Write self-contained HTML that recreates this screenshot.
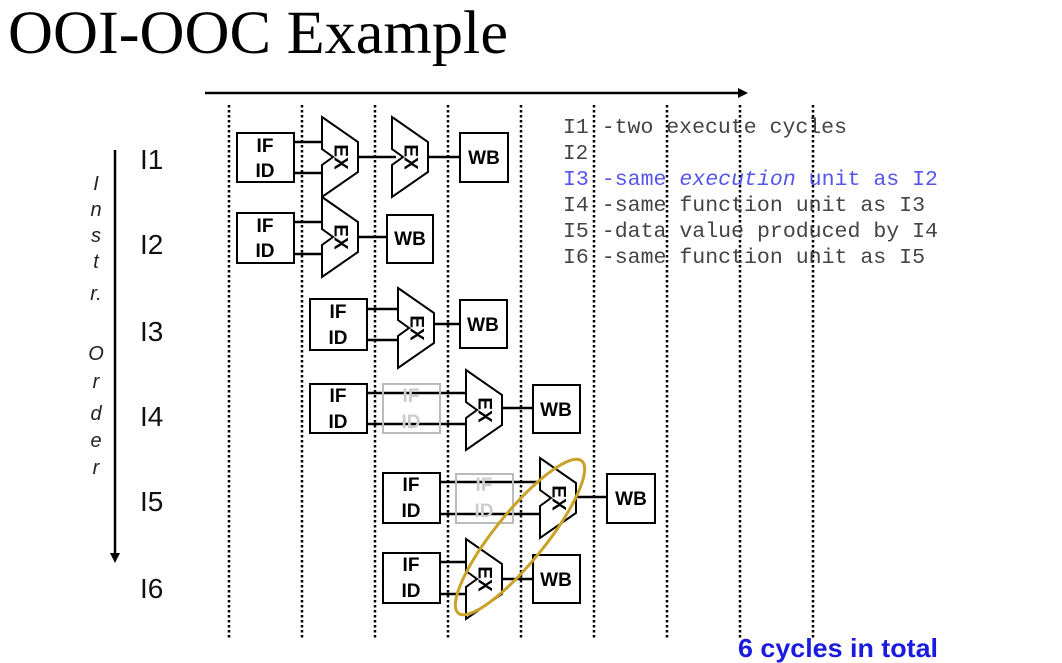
<!DOCTYPE html>
<html><head><meta charset="utf-8"><style>
html,body{margin:0;padding:0;background:#fff;}
svg{display:block;}
</style></head><body>
<svg width="1062" height="663" viewBox="0 0 1062 663" xmlns="http://www.w3.org/2000/svg">
<defs>
<g id="alu"><polygon points="0,0 36,25 36,55 0,80 0,48 11,40 0,32" fill="#fff" stroke="#000" stroke-width="2"/>
<text transform="translate(18,40) rotate(90)" font-family="Liberation Sans, sans-serif" font-weight="bold" font-size="19" text-anchor="middle" dominant-baseline="central">EX</text></g>
</defs>
<text x="8" y="53" font-family="Liberation Serif, serif" font-size="61" textLength="500" lengthAdjust="spacingAndGlyphs">OOI-OOC Example</text>
<line x1="205" y1="93" x2="742" y2="93" stroke="#000" stroke-width="2.5"/>
<polygon points="748,93 738,88 738,98" fill="#000"/>
<g stroke="#000" stroke-width="2.5" stroke-dasharray="2.5,2.5">
<line x1="229" y1="105" x2="229" y2="640"/><line x1="302" y1="105" x2="302" y2="640"/>
<line x1="375" y1="105" x2="375" y2="640"/><line x1="448" y1="105" x2="448" y2="640"/>
<line x1="521" y1="105" x2="521" y2="640"/><line x1="594" y1="105" x2="594" y2="640"/>
<line x1="667" y1="105" x2="667" y2="640"/><line x1="740" y1="105" x2="740" y2="640"/>
<line x1="813" y1="105" x2="813" y2="640"/>
</g>
<line x1="115" y1="150" x2="115" y2="555" stroke="#000" stroke-width="2.5"/>
<polygon points="115,563 110,553 120,553" fill="#000"/>
<g font-family="Liberation Sans, sans-serif" font-style="italic" font-size="20" text-anchor="middle" fill="#222">
<text x="96" y="190">I</text><text x="96" y="216">n</text><text x="96" y="242">s</text><text x="96" y="268">t</text><text x="96" y="300">r.</text>
<text x="96" y="360">O</text><text x="96" y="388">r</text><text x="96" y="420">d</text><text x="96" y="447">e</text><text x="96" y="474">r</text>
</g>
<g font-family="Liberation Sans, sans-serif" font-size="28" fill="#111">
<text x="140" y="169">I1</text><text x="140" y="254">I2</text><text x="140" y="341">I3</text>
<text x="140" y="426">I4</text><text x="140" y="511">I5</text><text x="140" y="598">I6</text>
</g>
<g stroke="#000" stroke-width="2.5">
<line x1="294" y1="142" x2="322" y2="142"/><line x1="294" y1="173" x2="322" y2="173"/>
<line x1="358" y1="157" x2="396" y2="157"/><line x1="428" y1="157" x2="460" y2="157"/>
<line x1="294" y1="222" x2="322" y2="222"/><line x1="294" y1="254" x2="322" y2="254"/>
<line x1="358" y1="237" x2="387" y2="237"/>
<line x1="367" y1="309" x2="398" y2="309"/><line x1="367" y1="340" x2="398" y2="340"/>
<line x1="434" y1="324" x2="460" y2="324"/>
<line x1="367" y1="393" x2="466" y2="393"/><line x1="367" y1="424" x2="466" y2="424"/>
<line x1="502" y1="408" x2="533" y2="408"/>
<line x1="440" y1="482" x2="540" y2="482"/><line x1="440" y1="514" x2="540" y2="514"/>
<line x1="576" y1="497" x2="607" y2="497"/>
<line x1="440" y1="562" x2="466" y2="562"/><line x1="440" y1="594" x2="466" y2="594"/>
<line x1="502" y1="579" x2="533" y2="579"/>
</g>
<use href="#alu" x="322" y="117"/><use href="#alu" x="392" y="117"/>
<use href="#alu" x="322" y="197"/><use href="#alu" x="398" y="288"/>
<use href="#alu" x="466" y="370"/><use href="#alu" x="540" y="458"/>
<use href="#alu" x="466" y="539"/>
<g fill="#fff" stroke="#000" stroke-width="2">
<rect x="237" y="133" width="57" height="49"/><rect x="460" y="133" width="48" height="49"/>
<rect x="237" y="213" width="57" height="50"/><rect x="387" y="215" width="46" height="48"/>
<rect x="310" y="299" width="57" height="51"/><rect x="460" y="300" width="47" height="48"/>
<rect x="310" y="384" width="57" height="49"/><rect x="533" y="385" width="47" height="48"/>
<rect x="383" y="473" width="57" height="50"/><rect x="607" y="474" width="48" height="49"/>
<rect x="383" y="553" width="57" height="50"/><rect x="533" y="555" width="47" height="48"/>
</g>
<g fill="none" stroke="#bbb" stroke-width="2">
<rect x="383" y="384" width="57" height="49"/><rect x="456" y="474" width="57" height="49"/>
</g>
<g font-family="Liberation Sans, sans-serif" font-weight="bold" font-size="19" text-anchor="middle">
<text x="265" y="152">IF</text><text x="265" y="177">ID</text>
<text x="265" y="232">IF</text><text x="265" y="257">ID</text>
<text x="338" y="318">IF</text><text x="338" y="344">ID</text>
<text x="338" y="402">IF</text><text x="338" y="428">ID</text>
<text x="411" y="491">IF</text><text x="411" y="517">ID</text>
<text x="411" y="571">IF</text><text x="411" y="597">ID</text>
<g fill="#ccc"><text x="411" y="402">IF</text><text x="411" y="428">ID</text>
<text x="484" y="491">IF</text><text x="484" y="517">ID</text></g>
<text x="484" y="164">WB</text><text x="410" y="245">WB</text><text x="483" y="331">WB</text>
<text x="556" y="416">WB</text><text x="631" y="505">WB</text><text x="556" y="586">WB</text>
</g>
<ellipse cx="520" cy="537" rx="98" ry="25" transform="rotate(-51 520 537)" fill="none" stroke="#c9a227" stroke-width="3"/>
<g font-family="Liberation Mono, monospace" font-size="21" fill="#444">
<text x="563" y="133" textLength="284" lengthAdjust="spacingAndGlyphs">I1 -two execute cycles</text>
<text x="563" y="159">I2</text>
<text x="563" y="185" fill="#5555ee" textLength="375" lengthAdjust="spacingAndGlyphs">I3 -same <tspan font-style="italic">execution</tspan> unit as I2</text>
<text x="563" y="211" textLength="362" lengthAdjust="spacingAndGlyphs">I4 -same function unit as I3</text>
<text x="563" y="237" textLength="375" lengthAdjust="spacingAndGlyphs">I5 -data value produced by I4</text>
<text x="563" y="263" textLength="362" lengthAdjust="spacingAndGlyphs">I6 -same function unit as I5</text>
</g>
<text x="738" y="657" font-family="Liberation Sans, sans-serif" font-weight="bold" font-size="26" fill="#1a1ae0" textLength="200" lengthAdjust="spacingAndGlyphs">6 cycles in total</text>
</svg>
</body></html>
